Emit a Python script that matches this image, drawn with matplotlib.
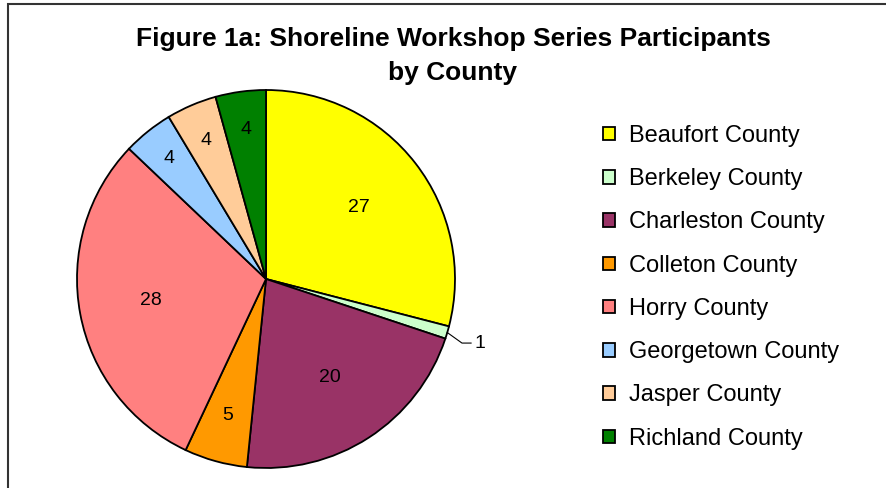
import matplotlib
matplotlib.use("Agg")
import matplotlib.pyplot as plt
from matplotlib.patches import Patch, Rectangle
import numpy as np

#===============================================================================#
# data                                                                          #
#===============================================================================#

counties = ["Beaufort County", "Berkeley County", "Charleston County",
            "Colleton County", "Horry County", "Georgetown County",
            "Jasper County", "Richland County"]
participants = [27, 1, 20, 5, 28, 4, 4, 4]
colors = ["#FFFF00", "#CCFFCC", "#993366", "#FF9900",
          "#FF8080", "#99CCFF", "#FFCC99", "#008000"]
title = "Figure 1a: Shoreline Workshop Series Participants\nby County"

# radial position of each value label (fraction of radius)
labelDist = [0.62, None, 0.62, 0.75, 0.62, 0.82, 0.80, 0.80]

plt.rcParams['font.family'] = ['Liberation Sans', 'DejaVu Sans']

#===============================================================================#
# figure                                                                        #
#===============================================================================#

W, H = 887, 488
fig = plt.figure(figsize=(W/100, H/100), dpi=100)

# chart frame (right/bottom run off the image)
fig.patches.append(Rectangle((8/W, -0.5), 2, 1.5 - 4/H, transform=fig.transFigure,
                             fill=False, edgecolor='#333333', linewidth=1.5))

cx, cy, r = 266, 279, 189
ax = fig.add_axes([(cx - r)/W, (H - cy - r)/H, 2*r/W, 2*r/H])

wedges, _ = ax.pie(participants, colors=colors, startangle=90, counterclock=False,
                   radius=1, wedgeprops=dict(edgecolor='black', linewidth=1.3))
ax.set_xlim(-1, 1)
ax.set_ylim(-1, 1)
ax.set_aspect('equal')
ax.axis('off')

# value labels----------------------------------------------------------------#
for w, val, d in zip(wedges, participants, labelDist):
    mid = np.deg2rad((w.theta1 + w.theta2) / 2)
    if d is None:
        # small slice -> leader line
        ex, ey = np.cos(mid), np.sin(mid)
        elbow = (1.037, -0.339)
        ax.plot([ex*1.0, elbow[0], 1.085], [ey*1.0, elbow[1], elbow[1]],
                color='black', linewidth=0.8, clip_on=False)
        ax.text(1.105, elbow[1], str(val), ha='left', va='center', fontsize=14)
    else:
        ax.text(d*np.cos(mid), d*np.sin(mid), str(val), ha='center', va='center',
                fontsize=14)

# title-----------------------------------------------------------------------#
fig.text(453/W, 1 - 56/H, title, ha='center', va='center', fontsize=19,
         fontweight='bold', linespacing=1.5)

# legend----------------------------------------------------------------------#
handles = [Patch(facecolor=c, edgecolor='black', linewidth=1.3) for c in colors]
fig.legend(handles, counties, loc='upper left', bbox_to_anchor=(603/W, 1 - 125/H),
           frameon=False, fontsize=17, borderpad=0, borderaxespad=0,
           handlelength=0.5, handleheight=0.5, handletextpad=0.62,
           labelspacing=0.9)

fig.savefig("out.png", dpi=100)
